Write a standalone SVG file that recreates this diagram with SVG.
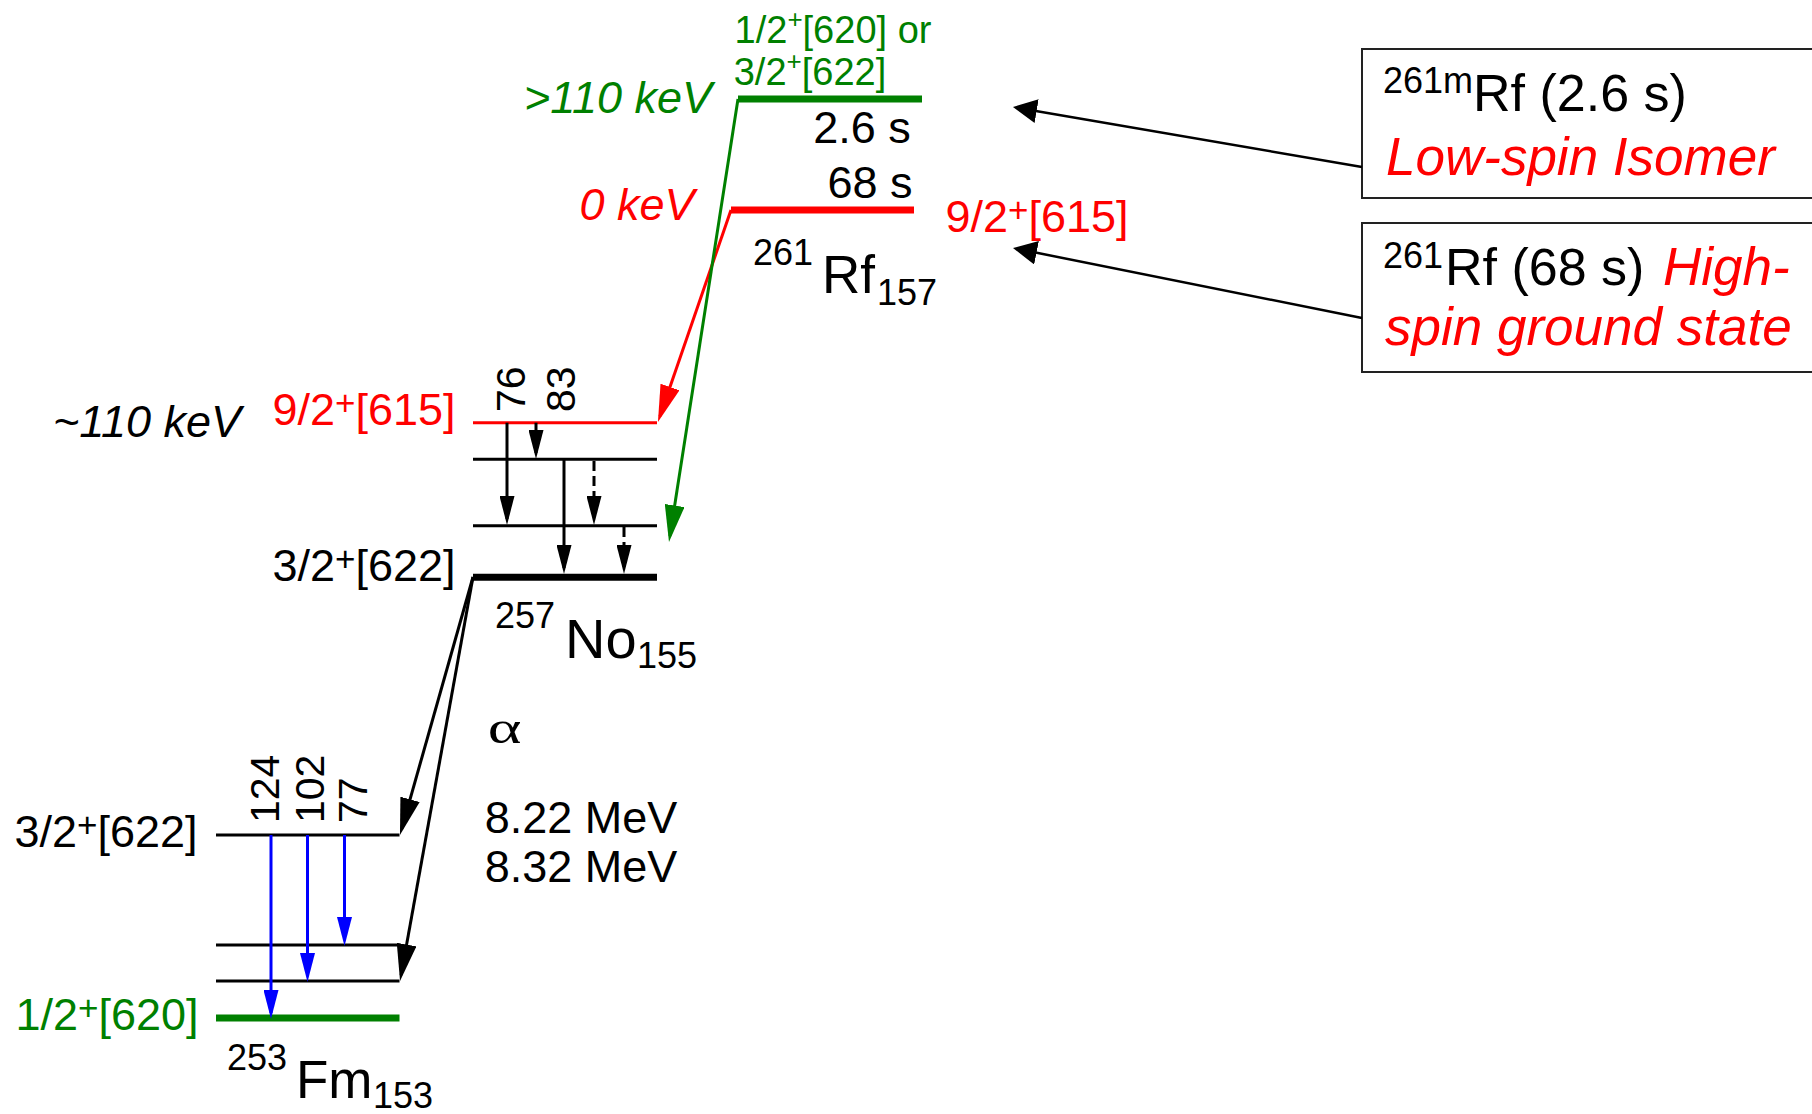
<svg xmlns="http://www.w3.org/2000/svg" width="1812" height="1114" viewBox="0 0 1812 1114">
<style>
text{font-family:"Liberation Sans",Arial,sans-serif;font-size:45px;fill:#000}
.it{font-style:italic}
.r{fill:#ff0000}
.g{fill:#008000}
.m{text-anchor:middle}
.sm{font-size:38px}
.nuc{font-size:36px}
.sym{font-size:53px}
.rot{font-size:41px}
.box{font-size:52px}
.boxr{font-size:53px;font-style:italic;fill:#ff0000}
.lv{stroke:#000;stroke-width:3;fill:none}
.thick{stroke-width:7}
.lr{stroke:#ff0000}
.lg{stroke:#008000}
.c{fill:none;stroke-width:3}
.ck{stroke:#000}
.cr{stroke:#ff0000}
.cg{stroke:#008000}
.cb{stroke:#0000ff}
.dash{stroke-dasharray:10 5}
.bx{fill:#fff;stroke:#222;stroke-width:2}
</style>
<defs>
<marker id="bigK" markerUnits="userSpaceOnUse" viewBox="0 0 37 20" markerWidth="37" markerHeight="20" refX="31" refY="10" orient="auto"><path d="M0,0L37,10L0,20z" fill="#000"/></marker>
<marker id="bigR" markerUnits="userSpaceOnUse" viewBox="0 0 37 20" markerWidth="37" markerHeight="20" refX="31" refY="10" orient="auto"><path d="M0,0L37,10L0,20z" fill="#ff0000"/></marker>
<marker id="bigG" markerUnits="userSpaceOnUse" viewBox="0 0 37 20" markerWidth="37" markerHeight="20" refX="31" refY="10" orient="auto"><path d="M0,0L37,10L0,20z" fill="#008000"/></marker>
<marker id="smK" markerUnits="userSpaceOnUse" viewBox="0 0 29 15" markerWidth="29" markerHeight="15" refX="23" refY="7.5" orient="auto"><path d="M0,0L29,7.5L0,15z" fill="#000"/></marker>
<marker id="smB" markerUnits="userSpaceOnUse" viewBox="0 0 29 15" markerWidth="29" markerHeight="15" refX="23" refY="7.5" orient="auto"><path d="M0,0L29,7.5L0,15z" fill="#0000ff"/></marker>
<marker id="boxA" markerUnits="userSpaceOnUse" viewBox="0 0 24 24" markerWidth="24" markerHeight="24" refX="20" refY="12" orient="auto"><path d="M0,0L24,12L0,24z" fill="#000"/></marker>
</defs>
<rect x="0" y="0" width="1812" height="1114" fill="#fff"/>

<g id="rf261">
<line class="lv thick lg" x1="738" y1="99" x2="922" y2="99"/>
<line class="lv thick lr" x1="731" y1="210" x2="914" y2="210"/>
<text class="g sm m" x="833" y="43">1/2<tspan font-size="26" dy="-15">+</tspan><tspan dy="15">[620] or</tspan></text>
<text class="g sm m" x="810" y="85">3/2<tspan font-size="26" dy="-15">+</tspan><tspan dy="15">[622]</tspan></text>
<text class="g it m" x="618" y="113">&gt;110 keV</text>
<text class="m" x="862" y="143">2.6 s</text>
<text class="m" x="870" y="198">68 s</text>
<text class="r it m" x="637" y="220">0 keV</text>
<text class="r m" x="1037" y="232">9/2<tspan font-size="35" dy="-10">+</tspan><tspan dy="10">[615]</tspan></text>
<text class="nuc" x="753" y="265">261</text>
<text class="sym" x="822" y="293">Rf</text>
<text class="nuc" x="877" y="305">157</text>
</g>

<g id="no257">
<line class="lv lr" x1="473" y1="422.7" x2="657" y2="422.7"/>
<line class="lv" x1="473" y1="459.3" x2="657" y2="459.3"/>
<line class="lv" x1="473" y1="525.7" x2="657" y2="525.7"/>
<line class="lv thick" x1="473" y1="577.3" x2="657" y2="577.3"/>
<text class="it m" x="147" y="437">~110 keV</text>
<text class="r m" x="364" y="425">9/2<tspan font-size="35" dy="-10">+</tspan><tspan dy="10">[615]</tspan></text>
<text class="m" x="364" y="581">3/2<tspan font-size="35" dy="-10">+</tspan><tspan dy="10">[622]</tspan></text>
<text class="rot" transform="translate(525,412) rotate(-90)">76</text>
<text class="rot" transform="translate(575,412) rotate(-90)">83</text>
<text class="nuc" x="495" y="628">257</text>
<text class="sym" x="565" y="658" style="font-size:56px">No</text>
<text class="nuc" x="637" y="668">155</text>
</g>

<g id="alpha-label">
<text transform="translate(504.5,743) scale(1.4,1)" style="font-family:'Liberation Serif','Times New Roman',serif;font-size:46px;text-anchor:middle">α</text>
<text class="m" x="581" y="833">8.22 MeV</text>
<text class="m" x="581" y="882">8.32 MeV</text>
</g>

<g id="fm253">
<line class="lv" x1="216" y1="835" x2="399.5" y2="835"/>
<line class="lv" x1="216" y1="945" x2="399.5" y2="945"/>
<line class="lv" x1="216" y1="981" x2="399.5" y2="981"/>
<line class="lv thick lg" x1="216" y1="1018" x2="399.5" y2="1018"/>
<text class="m" x="106" y="847">3/2<tspan font-size="35" dy="-10">+</tspan><tspan dy="10">[622]</tspan></text>
<text class="g m" x="107" y="1030">1/2<tspan font-size="35" dy="-10">+</tspan><tspan dy="10">[620]</tspan></text>
<text class="rot" transform="translate(279,823) rotate(-90)">124</text>
<text class="rot" transform="translate(324,823) rotate(-90)">102</text>
<text class="rot" transform="translate(367,823) rotate(-90)">77</text>
<text class="nuc" x="227" y="1070">253</text>
<text class="sym" x="296" y="1098">Fm</text>
<text class="nuc" x="373" y="1108">153</text>
</g>

<g id="box-isomer">
<rect class="bx" x="1362" y="49" width="470" height="149"/>
<text class="box"><tspan x="1383" y="93" font-size="36">261m</tspan><tspan x="1473" y="111">Rf (2.6 s)</tspan></text>
<text class="boxr" x="1386" y="175">Low-spin Isomer</text>
</g>

<g id="box-ground">
<rect class="bx" x="1362" y="223" width="470" height="149"/>
<text class="box"><tspan x="1383" y="268" font-size="36">261</tspan><tspan x="1445" y="285">Rf (68 s)</tspan></text>
<text class="boxr" x="1663" y="285">High-</text>
<text class="boxr" x="1385" y="345">spin ground state</text>
</g>

<g id="connectors">
<line class="c cr" x1="731" y1="210" x2="659.9" y2="416.3" marker-end="url(#bigR)"/>
<line class="c cg" x1="738" y1="99" x2="669.9" y2="536.1" marker-end="url(#bigG)"/>
<line class="c ck" x1="473" y1="577" x2="401.6" y2="829.2" marker-end="url(#bigK)"/>
<line class="c ck" x1="473" y1="577" x2="401.1" y2="975.1" marker-end="url(#bigK)"/>
<line class="c ck" x1="507" y1="422.7" x2="507" y2="519" marker-end="url(#smK)"/>
<line class="c ck" x1="536" y1="422.7" x2="536" y2="453" marker-end="url(#smK)"/>
<line class="c ck" x1="564" y1="459.3" x2="564" y2="568" marker-end="url(#smK)"/>
<line class="c ck dash" x1="594" y1="461" x2="594" y2="519" marker-end="url(#smK)"/>
<line class="c ck dash" x1="624" y1="527" x2="624" y2="568" marker-end="url(#smK)"/>
<line class="c cb" x1="271" y1="835" x2="271" y2="1013" marker-end="url(#smB)"/>
<line class="c cb" x1="307.5" y1="835" x2="307.5" y2="976" marker-end="url(#smB)"/>
<line class="c cb" x1="344.5" y1="835" x2="344.5" y2="940" marker-end="url(#smB)"/>
<line class="c ck" style="stroke-width:2.5" x1="1362" y1="167" x2="1016.9" y2="107.7" marker-end="url(#boxA)"/>
<line class="c ck" style="stroke-width:2.5" x1="1362" y1="318" x2="1016.9" y2="248.8" marker-end="url(#boxA)"/>
</g>
</svg>
